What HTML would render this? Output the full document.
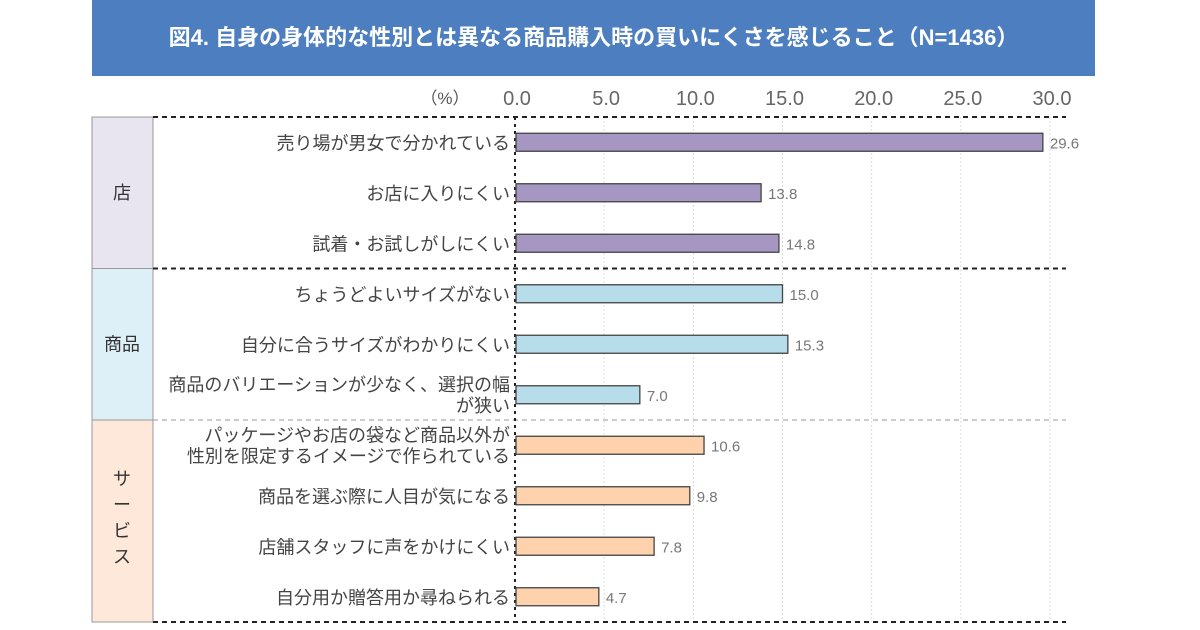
<!DOCTYPE html>
<html><head><meta charset="utf-8"><style>
body{margin:0;background:#fff;width:1200px;height:630px;overflow:hidden;font-family:"Liberation Sans","Noto Sans CJK JP",sans-serif}
#title{position:absolute;left:92px;top:0;width:1003px;height:76px;background:#4d7ebf;color:#fff;font-weight:bold;font-size:22px;line-height:76px;text-align:center;font-family:"Liberation Sans","Noto Sans CJK JP",sans-serif}
</style></head><body>
<div id="title">図4. 自身の身体的な性別とは異なる商品購入時の買いにくさを感じること（N=1436）</div>
<svg id="chart" width="1200" height="630" style="position:absolute;left:0;top:0"></svg>
<script>
const categories=["売り場が男女で分かれている","お店に入りにくい","試着・お試しがしにくい","ちょうどよいサイズがない","自分に合うサイズがわかりにくい","商品のバリエーションが少なく、選択の幅|が狭い","パッケージやお店の袋など商品以外が|性別を限定するイメージで作られている","商品を選ぶ際に人目が気になる","店舗スタッフに声をかけにくい","自分用か贈答用か尋ねられる"];
const values=[29.6,13.8,14.8,15.0,15.3,7.0,10.6,9.8,7.8,4.7];
const groupOf=[0,0,0,1,1,1,2,2,2,2];
const groups=["店","商品","サービス"];
const tickValues=[0,5,10,15,20,25,30];
const tickLabels=["0.0","5.0","10.0","15.0","20.0","25.0","30.0"];
const NS="http://www.w3.org/2000/svg";
const svg=document.getElementById('chart');
const x0=515,x1=1050,vmax=30,top0=117,rowH=50.5;
const xs=v=>x0+(x1-x0)*v/vmax;
const yc=i=>top0+rowH*(i+0.5);
const fills=["#a597c1","#b7dcea","#fdd2ac"];
const bands=["#e8e4f0","#def0f7","#fde8da"];
function mk(t,a){const e=document.createElementNS(NS,t);for(const k in a)e.setAttribute(k,a[k]);svg.appendChild(e);return e;}
let start=0;
groups.forEach((g,gi)=>{
  const n=groupOf.filter(x=>x===gi).length;
  const y=top0+start*rowH,h=n*rowH;
  const r=mk('rect',{x:92,y:y,width:61,height:h,fill:bands[gi],stroke:"#999","stroke-width":1});
  
  
  const t=mk('text',{x:122,"font-size":18,fill:"#333","text-anchor":"middle"});
  
  
  if(gi===2){["サ","ー","ビ","ス"].forEach((c,k)=>{const ts=document.createElementNS(NS,'tspan');ts.setAttribute('x',122);ts.setAttribute('y',y+h/2-36+k*26);ts.textContent=c;t.appendChild(ts);});}
  else{t.setAttribute('y',y+h/2+6);t.textContent=g;}
  start+=n;
});
tickValues.forEach((v,i)=>{
  if(v>0){const l=mk('line',{x1:xs(v),x2:xs(v),y1:top0,y2:622,stroke:"#ddd","stroke-width":1,"stroke-dasharray":"2,2"});
  
  }
  const t=mk('text',{x:xs(v)+2,y:105,"font-size":20,fill:"#666","text-anchor":"middle"});
  
  
  t.textContent=tickLabels[i];
});
const u=mk('text',{x:445,y:104,"font-size":17,fill:"#555","text-anchor":"middle"});


u.textContent="（%）";
[[top0,"#222",2],[top0+3*rowH,"#222",2],[top0+6*rowH,"#999",1],[622,"#222",2]].forEach(s=>{
  const l=mk('line',{x1:153,x2:1066,y1:s[0],y2:s[0],stroke:s[1],"stroke-width":s[2],"stroke-dasharray":"5,4"});
  
  
});
const za=mk('line',{x1:x0,x2:x0,y1:top0,y2:622,stroke:"#222","stroke-width":2,"stroke-dasharray":"3,4"});


values.forEach((v,i)=>{
  const y=yc(i);
  const b=mk('rect',{x:xs(0)+1,y:y-9,width:xs(v)-xs(0)-1,height:18,fill:fills[groupOf[i]],stroke:"#444","stroke-width":1.3});
  
  
  const vt=mk('text',{x:xs(v)+7,y:y+6,"font-size":15,fill:"#777"});
  
  
  vt.textContent=v.toFixed(1);
  const parts=categories[i].split('|');
  const ct=mk('text',{"font-size":18,fill:"#444","text-anchor":"end"});
  
  
  parts.forEach((p,k)=>{const ts=document.createElementNS(NS,'tspan');ts.setAttribute('x',510);ts.setAttribute('y',parts.length>1?y-4+k*21:y+7);ts.textContent=p;ct.appendChild(ts);});
});
</script>
</body></html>
